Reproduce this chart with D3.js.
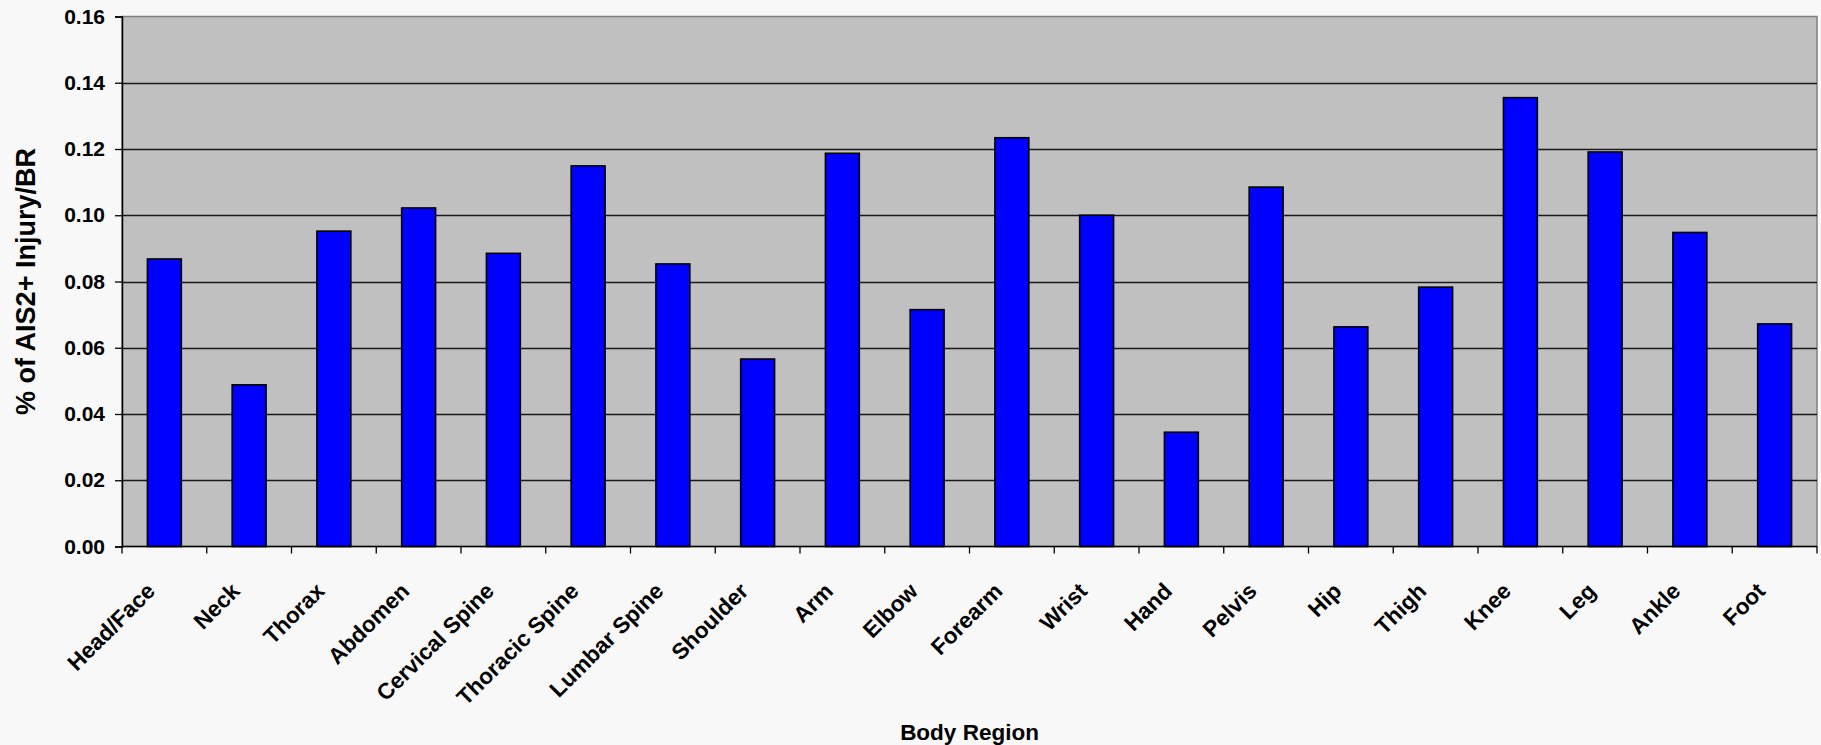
<!DOCTYPE html>
<html>
<head>
<meta charset="utf-8">
<script src="https://cdn.jsdelivr.net/npm/d3@7"></script>
<style>
  html, body { margin: 0; padding: 0; background: #f8f8f8; }
  svg { display: block; }
  text { font-family: "Liberation Sans", Arial, sans-serif; font-weight: bold; fill: #000; }
</style>
</head>
<body>
<svg id="chart" width="1821" height="745"></svg>
<script>
// Body regions along the x axis
const regions = ["Head/Face", "Neck", "Thorax", "Abdomen", "Cervical Spine", "Thoracic Spine",
  "Lumbar Spine", "Shoulder", "Arm", "Elbow", "Forearm", "Wrist", "Hand", "Pelvis", "Hip",
  "Thigh", "Knee", "Leg", "Ankle", "Foot"];

// Share of AIS2+ injuries per body region
const injuryShare = [0.0868, 0.0488, 0.0952, 0.1022, 0.0885, 0.1149, 0.0853, 0.0566, 0.1187,
  0.0715, 0.1234, 0.1000, 0.0345, 0.1085, 0.0663, 0.0783, 0.1355, 0.1191, 0.0948, 0.0672];

// Value axis ticks
const yTicks = [0, 0.02, 0.04, 0.06, 0.08, 0.10, 0.12, 0.14, 0.16];

const yTitle = "% of AIS2+ Injury/BR";
const xTitle = "Body Region";

const svg = d3.select("#chart");
const plot = { left: 122, top: 16.5, right: 1817, bottom: 546.5 };

const x = d3.scaleBand()
  .domain(regions)
  .range([plot.left, plot.right])
  .paddingInner(0.6)
  .paddingOuter(0.3);

const y = d3.scaleLinear()
  .domain([0, 0.16])
  .range([plot.bottom, plot.top]);

// plot area background
svg.append("rect")
  .attr("x", plot.left).attr("y", plot.top)
  .attr("width", plot.right - plot.left).attr("height", plot.bottom - plot.top)
  .attr("fill", "#c0c0c0")
  .attr("stroke", "#808080").attr("stroke-width", 1.5);

// horizontal gridlines
svg.append("g")
  .selectAll("line")
  .data(yTicks.filter(d => d > 0 && d < 0.16))
  .join("line")
  .attr("x1", plot.left).attr("x2", plot.right)
  .attr("y1", d => Math.round(y(d)) + 0.5).attr("y2", d => Math.round(y(d)) + 0.5)
  .attr("stroke", "#1a1a1a").attr("stroke-width", 1.4);

// bars
svg.append("g")
  .selectAll("rect")
  .data(regions.map((r, i) => ({ region: r, value: injuryShare[i] })))
  .join("rect")
  .attr("x", d => x(d.region))
  .attr("width", x.bandwidth())
  .attr("y", d => y(d.value))
  .attr("height", d => y(0) - y(d.value))
  .attr("fill", "#0000ff")
  .attr("stroke", "#000")
  .attr("stroke-width", 1.6);

// value axis
const yAxis = svg.append("g")
  .attr("transform", `translate(${plot.left},0)`)
  .call(d3.axisLeft(y).tickValues(yTicks).tickFormat(d3.format(".2f")).tickSize(7).tickPadding(10));
yAxis.select(".domain").attr("stroke", "#000").attr("stroke-width", 1.5);
yAxis.selectAll(".tick line").attr("stroke", "#000").attr("stroke-width", 1.3);
yAxis.selectAll(".tick text")
  .attr("font-size", 21)
  .attr("font-family", "Liberation Sans, Arial, sans-serif")
  .attr("font-weight", "bold")
  .attr("fill", "#000");

// category axis: baseline, boundary ticks and rotated labels
const step = x.step();
const boundaries = regions.map(r => x(r) - step * 0.3).concat([plot.right]);
const xAxis = svg.append("g");
xAxis.append("line")
  .attr("x1", plot.left).attr("x2", plot.right)
  .attr("y1", plot.bottom).attr("y2", plot.bottom)
  .attr("stroke", "#000").attr("stroke-width", 1.5);
xAxis.selectAll("line.bound")
  .data(boundaries)
  .join("line")
  .attr("class", "bound")
  .attr("x1", d => d).attr("x2", d => d)
  .attr("y1", plot.bottom).attr("y2", plot.bottom + 7)
  .attr("stroke", "#000").attr("stroke-width", 1.3);
xAxis.selectAll("text")
  .data(regions)
  .join("text")
  .attr("text-anchor", "end")
  .attr("font-size", 22.5)
  .attr("transform", d => `translate(${x(d) + x.bandwidth() / 2 - 8},${plot.bottom + 46}) rotate(-45)`)
  .text(d => d);

// axis titles
svg.append("text")
  .attr("text-anchor", "middle")
  .attr("font-size", 27)
  .attr("transform", `translate(35,${(plot.top + plot.bottom) / 2}) rotate(-90)`)
  .text(yTitle);

svg.append("text")
  .attr("text-anchor", "middle")
  .attr("font-size", 22.5)
  .attr("x", (plot.left + plot.right) / 2)
  .attr("y", 740)
  .text(xTitle);
</script>
</body>
</html>
